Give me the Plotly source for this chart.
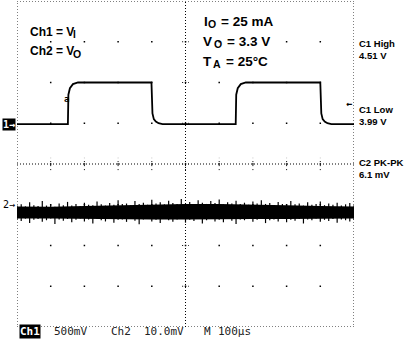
import plotly.graph_objects as go

# ---------------- data ----------------
# Channel 1 (V_I), 500 mV/div, time in microseconds (100 us/div)
ch1_t = [0, 151, 152.5, 157, 166, 181, 399, 402, 406, 412, 420, 432,
         649, 650.5, 655, 664, 679, 900, 903, 907, 913, 921, 933, 1000]
ch1_v = [3.99, 3.99, 4.35, 4.43, 4.48, 4.50, 4.50, 4.12, 4.05, 4.02, 4.00, 3.99,
         3.99, 4.35, 4.43, 4.48, 4.50, 4.50, 4.12, 4.05, 4.02, 4.00, 3.99, 3.99]
ch1_v_per_div = 0.5
ch1_center_v = 3.50          # voltage shown on the centre graticule line

# Channel 2 (V_O ripple), 10 mV/div, values in mV relative to the "2" marker
ch2_mv_per_div = 10.0
ch2_ref_div = -1.0
ch2_step_us = 12.5
ch2_hi = [-0.2, 0.1, -0.4, 0.6, -0.1, -0.3, 0.9, -0.2, 0.0, -0.5, 0.3, -0.1, 0.7,
          -0.2, 0.2, -0.3, 0.5, 0.0, -0.1, 0.8, 0.1, -0.2, 0.4, 0.0, 1.1, 0.2,
          0.3, -0.1, 0.9, 0.2, 0.5, 0.0, 1.2, 0.3, 0.6, 0.1, 1.0, 0.4, 0.2, 1.4,
          0.3, 0.7, 0.1, 1.1, 0.5, 0.2, 0.9, 0.4, 1.3, 0.1, 0.6, 0.3, 1.0, 0.2,
          0.5, 0.0, 0.8, 0.3, 1.1, 0.2, 0.4, -0.1, 0.7, 0.2, 0.0, 0.9, 0.1, 0.3,
          -0.2, 0.6, 0.0, 0.2, 0.8, -0.1, 0.3, 0.0, 0.5, -0.2, 0.1, 0.4, -0.1]
ch2_lo = [-3.6, -4.0, -3.4, -4.5, -3.7, -3.5, -4.2, -3.8, -3.4, -4.7, -3.6, -3.9, -3.5,
          -4.3, -3.7, -3.4, -4.1, -3.6, -4.6, -3.5, -3.8, -4.1, -3.4, -4.4, -3.7, -3.6,
          -4.2, -3.5, -3.9, -4.8, -3.6, -3.4, -4.1, -3.7, -4.5, -3.5, -3.8, -4.2, -3.6, -3.4,
          -4.4, -3.7, -4.0, -3.5, -4.6, -3.8, -3.4, -4.1, -3.7, -4.3, -3.5, -3.9, -4.7, -3.6,
          -3.8, -3.4, -4.2, -3.7, -3.5, -4.5, -3.8, -3.6, -4.1, -3.4, -4.3, -3.7, -3.9, -3.5,
          -4.6, -3.6, -3.8, -3.4, -4.2, -3.7, -4.0, -3.5, -4.4, -3.6, -3.8, -4.1, -3.7]
core_t = [0, 100, 200, 300, 400, 500, 600, 700, 800, 900, 1000]
core_hi = [-0.4, -0.5, -0.3, -0.1, 0.1, 0.2, 0.2, 0.1, -0.1, -0.3, -0.4]
core_lo = [-3.4, -3.4, -3.5, -3.5, -3.6, -3.6, -3.6, -3.5, -3.5, -3.5, -3.4]

# graticule
x_divs = 10
y_divs = 8
us_per_div = 100

# ---------------- helpers ----------------
W, H = 407, 344
L, R, T, B = 17, 354, 1, 327


def paper(xp, yp):
    return (xp - L) / (R - L), (B - yp) / (B - T)


def c1(v):
    return (v - ch1_center_v) / ch1_v_per_div


def c2(mv):
    return ch2_ref_div + mv / ch2_mv_per_div


fig = go.Figure()

# Ch2 core band
fig.add_trace(go.Scatter(
    x=core_t + core_t[::-1],
    y=[c2(v) for v in core_hi] + [c2(v) for v in core_lo[::-1]],
    fill="toself", fillcolor="black", line=dict(width=0, color="black"),
    mode="lines", hoverinfo="skip", showlegend=False))

# Ch2 noise spikes
n = min(len(ch2_hi), len(ch2_lo))
sx, sy = [], []
for i in range(n):
    t = i * ch2_step_us
    sx += [t, t, None]
    sy += [c2(ch2_hi[i]), c2(ch2_lo[i]), None]
fig.add_trace(go.Scatter(x=sx, y=sy, mode="lines",
                         line=dict(color="black", width=1.2),
                         hoverinfo="skip", showlegend=False))

# Ch1 trace
fig.add_trace(go.Scatter(x=ch1_t, y=[c1(v) for v in ch1_v], mode="lines",
                         line=dict(color="black", width=1.8),
                         hoverinfo="skip", showlegend=False))

# graticule dots at major intersections
gx, gy = [], []
for i in range(1, x_divs):
    for j in range(1, y_divs):
        gx.append(i * us_per_div)
        gy.append(j - y_divs / 2)
fig.add_trace(go.Scatter(x=gx, y=gy, mode="markers",
                         marker=dict(color="black", size=1.5, symbol="square"),
                         hoverinfo="skip", showlegend=False))

shapes = []
# border
shapes.append(dict(type="rect", xref="x", yref="y", x0=0, x1=x_divs * us_per_div,
                   y0=-y_divs / 2, y1=y_divs / 2,
                   line=dict(color="black", width=1, dash="1px,2px")))
# centre crosshair
shapes.append(dict(type="line", xref="x", yref="y", x0=0, x1=x_divs * us_per_div, y0=0, y1=0,
                   line=dict(color="black", width=1, dash="1px,2px")))
shapes.append(dict(type="line", xref="x", yref="y", x0=500, x1=500, y0=-4, y1=4,
                   line=dict(color="black", width=1, dash="1px,2px")))
# ticks on centre lines
for i in range(1, x_divs):
    shapes.append(dict(type="line", xref="x", yref="y", x0=i * us_per_div, x1=i * us_per_div,
                       y0=-0.15, y1=0.15, line=dict(color="black", width=1, dash="1px,3px")))
for j in range(1, y_divs):
    shapes.append(dict(type="line", xref="x", yref="y", x0=490, x1=510,
                       y0=j - 4, y1=j - 4, line=dict(color="black", width=1, dash="1px,2px")))

ann = []
BOLD = "Liberation Sans, Arial, sans-serif"
MONO = "DejaVu Sans Mono, monospace"


def text(s, xp, yp, size, font=BOLD, color="black", xanchor="left", bg=None):
    xx, yy = paper(xp, yp)
    d = dict(text=s, x=xx, y=yy, xref="paper", yref="paper", showarrow=False,
             xanchor=xanchor, yanchor="middle", align="left",
             font=dict(family=font, size=size, color=color), borderpad=0)
    if bg:
        d["bgcolor"] = bg
    ann.append(d)


# condition labels (main text + subscript drawn as separate pieces)
text("<b>Ch1 = V</b>", 28.5, 31.7, 12)
text("<b>I</b>", 72, 35, 10)
text("<b>Ch2 = V</b>", 28.5, 51, 12)
text("<b>O</b>", 72, 54, 10.5)

text("<b>I</b>", 202.5, 21.2, 13.5)
text("<b>O</b>", 206.5, 23.5, 10.5)
text("<b>= 25 mA</b>", 219.5, 21.2, 13.5)
text("<b>V</b>", 202, 41.2, 13.5)
text("<b>O</b>", 212.5, 43.5, 10.5)
text("<b>= 3.3 V</b>", 225.5, 41.2, 13.5)
text("<b>T</b>", 202, 61.7, 13.5)
text("<b>A</b>", 211.5, 64, 10.5)
text("<b>= 25°C</b>", 224.5, 61.7, 13.5)

text("<b>C1 High</b>", 358, 43.5, 9.5)
text("<b>4.51 V</b>", 358, 55, 9.5)
text("<b>C1 Low</b>", 358, 110, 9.5)
text("<b>3.99 V</b>", 358, 121, 9.5)
text("<b>C2 PK-PK</b>", 358, 162.5, 9.5)
text("<b>6.1 mV</b>", 358, 174, 9.5)

# channel markers
text("<b>1→</b>", 2, 124.5, 10, font=MONO, color="white", bg="black")
text("2→", 2, 205, 10, font=MONO)
text("<b>a</b>", 63, 99, 9, font=MONO)
text("<b>←</b>", 345, 104, 10, font=MONO)

# bottom status line
text("<b>Ch1</b>", 19, 331.5, 11, font=MONO, color="white", bg="black")
text("500mV", 53, 331.5, 11, font=MONO, color="#222")
text("Ch2", 110, 331.5, 11, font=MONO, color="#222")
text("10.0mV", 143, 331.5, 11, font=MONO, color="#222")
text("M", 203, 331.5, 11, font=MONO, color="#222")
text("100µs", 217, 331.5, 11, font=MONO, color="#222")

fig.update_layout(
    width=W, height=H,
    margin=dict(l=L, r=W - R, t=T, b=H - B, pad=0),
    paper_bgcolor="white", plot_bgcolor="white",
    xaxis=dict(range=[0, x_divs * us_per_div], visible=False, fixedrange=True),
    yaxis=dict(range=[-y_divs / 2, y_divs / 2], visible=False, fixedrange=True),
    shapes=shapes, annotations=ann, showlegend=False,
)

fig.write_html("out.html", config={"displayModeBar": False})
